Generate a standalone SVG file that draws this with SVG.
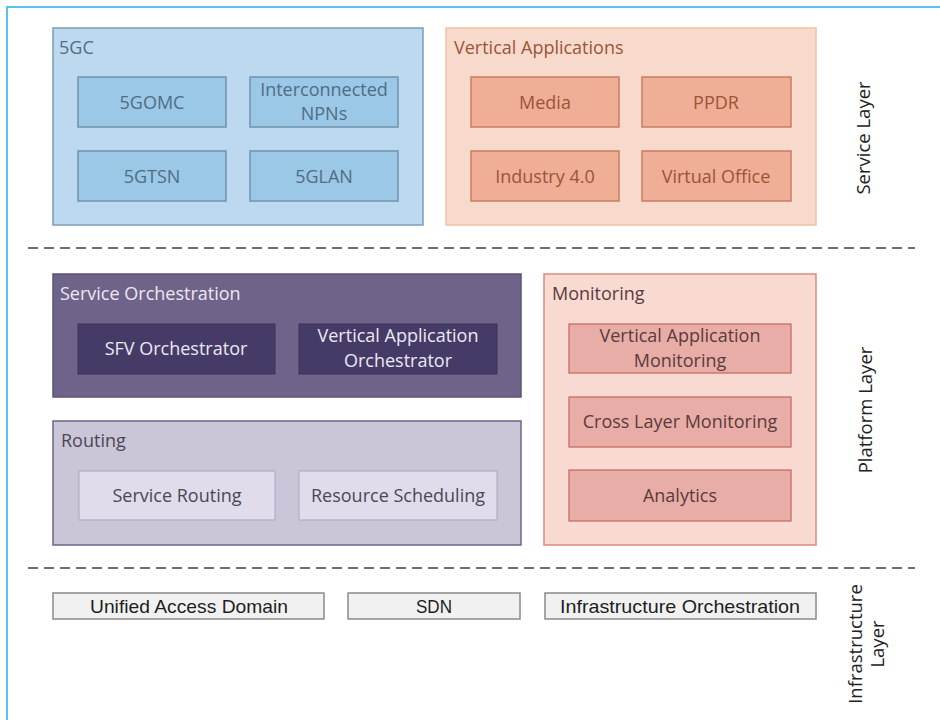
<svg xmlns="http://www.w3.org/2000/svg" width="940" height="720" viewBox="0 0 940 720">
<style>
text{font-family:"Open Sans","Liberation Sans",sans-serif;font-size:18px}
.c{text-anchor:middle}
.gc{fill:#bcd9ef;stroke:#7f9db3;stroke-width:1.5}
.gci{fill:#9bc8e7;stroke:#6f93ad;stroke-width:1.5}
.gct{fill:#4f6d84}
.va{fill:#f8dacd;stroke:#f0c3a2;stroke-width:1.5}
.vai{fill:#efae95;stroke:#c77e62;stroke-width:1.5}
.vat{fill:#9b5537}
.so{fill:#6f6389;stroke:#5d5277;stroke-width:1.5}
.soi{fill:#463b67;stroke:#3d3359;stroke-width:1}
.sot{fill:#ece8f2}
.ro{fill:#cbc5d8;stroke:#6f6389;stroke-width:1.5}
.roi{fill:#e1dceb;stroke:#b3abc6;stroke-width:1.2}
.rot{fill:#4b4757}
.mo{fill:#f8dad3;stroke:#d98c82;stroke-width:1.5}
.moi{fill:#e8ada7;stroke:#c3655e;stroke-width:1.2}
.mot{fill:#5b3b3b}
.inf{fill:#f1f1f1;stroke:#8a8a8a;stroke-width:1.5}
.inft{fill:#1e1e1e;font-family:"Liberation Sans",sans-serif;font-size:19px}
.lay{fill:#222;font-size:18.5px}
.dash{stroke:#6f6f6f;stroke-width:2;stroke-dasharray:10 6;fill:none}
</style>
<rect width="940" height="720" fill="#fff"/>
<path d="M7 720V7H940" fill="none" stroke="#5cc1ec" stroke-width="2"/>
<g id="connectors">
<line class="dash" x1="28" y1="248" x2="915" y2="248"/>
<line class="dash" x1="28" y1="568" x2="915" y2="568"/>
</g>
<g id="n5gc">
<rect class="gc" x="53" y="28" width="370" height="197"/>
<text class="gct" x="59" y="54">5GC</text>
</g>
<g id="n5gomc"><rect class="gci" x="78" y="77" width="148" height="50"/><text class="gct c" x="152" y="109">5GOMC</text></g>
<g id="nnpn"><rect class="gci" x="250" y="77" width="148" height="50"/><text class="gct c" x="324" y="96">Interconnected</text><text class="gct c" x="324" y="120">NPNs</text></g>
<g id="n5gtsn"><rect class="gci" x="78" y="151" width="148" height="50"/><text class="gct c" x="152" y="183">5GTSN</text></g>
<g id="n5glan"><rect class="gci" x="250" y="151" width="148" height="50"/><text class="gct c" x="324" y="183">5GLAN</text></g>
<g id="nva">
<rect class="va" x="446" y="28" width="370" height="197"/>
<text class="vat" x="454" y="54">Vertical Applications</text>
</g>
<g id="nmedia"><rect class="vai" x="471" y="77" width="148" height="50"/><text class="vat c" x="545" y="109">Media</text></g>
<g id="nppdr"><rect class="vai" x="642" y="77" width="149" height="50"/><text class="vat c" x="716" y="109">PPDR</text></g>
<g id="nind"><rect class="vai" x="471" y="151" width="148" height="50"/><text class="vat c" x="545" y="183">Industry 4.0</text></g>
<g id="nvo"><rect class="vai" x="642" y="151" width="149" height="50"/><text class="vat c" x="716" y="183">Virtual Office</text></g>
<g id="nsl"><text class="lay c" transform="translate(870,138) rotate(-90)">Service Layer</text></g>
<g id="nso">
<rect class="so" x="53" y="274" width="468" height="123"/>
<text class="sot" x="60" y="300">Service Orchestration</text>
</g>
<g id="nsfv"><rect class="soi" x="78" y="324" width="197" height="50"/><text class="sot c" x="176" y="355">SFV Orchestrator</text></g>
<g id="nvao"><rect class="soi" x="299" y="324" width="198" height="50"/><text class="sot c" x="398" y="342">Vertical Application</text><text class="sot c" x="398" y="367">Orchestrator</text></g>
<g id="nro">
<rect class="ro" x="53" y="421" width="468" height="124"/>
<text class="rot" x="61" y="447">Routing</text>
</g>
<g id="nsr"><rect class="roi" x="79" y="471" width="196" height="49"/><text class="rot c" x="177" y="502">Service Routing</text></g>
<g id="nrs"><rect class="roi" x="299" y="471" width="198" height="49"/><text class="rot c" x="398" y="502">Resource Scheduling</text></g>
<g id="nmo">
<rect class="mo" x="544" y="274" width="272" height="271"/>
<text class="mot" x="552" y="300">Monitoring</text>
</g>
<g id="nvam"><rect class="moi" x="569" y="324" width="222" height="49"/><text class="mot c" x="680" y="342">Vertical Application</text><text class="mot c" x="680" y="367">Monitoring</text></g>
<g id="nclm"><rect class="moi" x="569" y="397" width="222" height="50"/><text class="mot c" x="680" y="428">Cross Layer Monitoring</text></g>
<g id="nan"><rect class="moi" x="569" y="470" width="222" height="51"/><text class="mot c" x="680" y="502">Analytics</text></g>
<g id="npl"><text class="lay c" transform="translate(872,410) rotate(-90)">Platform Layer</text></g>
<g id="nuad"><rect class="inf" x="53" y="593" width="271" height="26"/><text class="inft c" x="189" y="613" textLength="198" lengthAdjust="spacingAndGlyphs">Unified Access  Domain</text></g>
<g id="nsdn"><rect class="inf" x="348" y="593" width="172" height="26"/><text class="inft c" x="434" y="613" textLength="36" lengthAdjust="spacingAndGlyphs">SDN</text></g>
<g id="nio"><rect class="inf" x="545" y="593" width="271" height="26"/><text class="inft c" x="680" y="613" textLength="240" lengthAdjust="spacingAndGlyphs">Infrastructure Orchestration</text></g>
<g id="nil"><text class="lay c" transform="translate(869,644) rotate(-90)"><tspan x="0" y="-7">Infrastructure</tspan><tspan x="0" y="15">Layer</tspan></text></g>
</svg>
